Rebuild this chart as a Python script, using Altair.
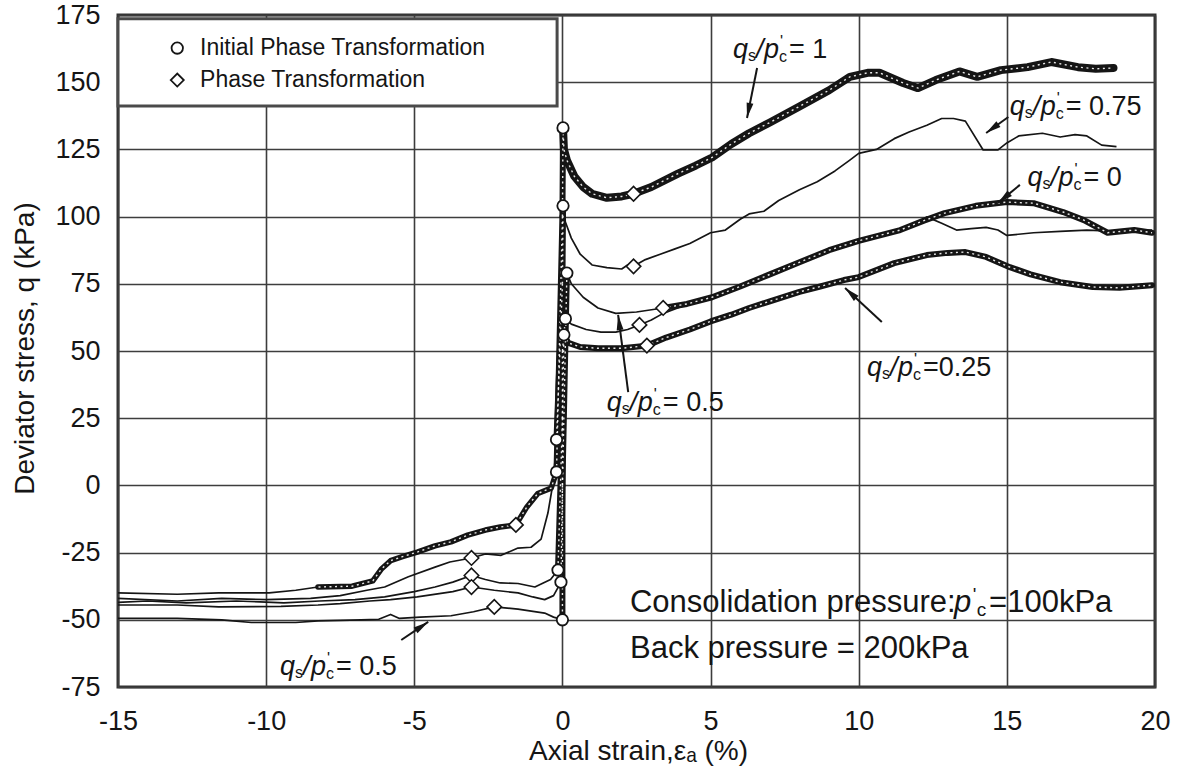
import math
import altair as alt
import pandas as pd

FONT = "Liberation Sans"
INK = "#151515"
GRID = "#3d3d3d"
W, H = 1037, 672
X_MIN, X_MAX = -15, 20
Q_MIN, Q_MAX = -75, 175
SX = W / (X_MAX - X_MIN)      # px per % strain
SQ = H / (Q_MAX - Q_MIN)      # px per kPa

# Static shear ratio qs/p'c of each test and the deviator stress it starts from (kPa)
TESTS = ["1", "0.75", "0.5", "0.25", "0"]
QS_START = [100, 75, 50, 25, 0]

# ---- compression side: axial strain (%) / deviator stress (kPa), from the IPT point on ----
C1_X = [0.02, 0.05, 0.15, 0.4, 0.7, 1.0, 1.5, 2.0, 2.4, 3.0, 3.9, 4.5, 5.05, 5.7, 6.3,
        7.0, 8.0, 9.0, 9.7, 10.3, 10.7, 11.5, 12.0, 12.6, 13.4, 14.0, 14.8, 15.7, 16.5,
        17.4, 18.0, 18.6]
C1_Q = [133, 125, 121, 115, 111, 108.5, 107, 107.5, 108.5, 111, 116, 119, 122, 127, 131,
        135, 141, 147, 152, 153.5, 153.5, 149.7, 147.8, 150.8, 154, 152, 154.5, 155.6, 157.5,
        155.6, 155, 155.3]

C075_X = [0.02, 0.1, 0.3, 0.6, 1.0, 1.5, 2.0, 2.2, 2.4, 2.8, 3.3, 3.8, 4.3, 5.0, 5.5,
          6.0, 6.3, 6.8, 7.3, 8.0, 8.6, 9.2, 9.7, 10.0, 10.6, 11.2, 11.7, 12.3, 12.8,
          13.2, 13.6, 14.2, 14.7, 15.0, 15.4, 16.2, 16.8, 17.3, 17.7, 18.2, 18.7]
C075_Q = [104, 98, 92, 86, 82, 81, 80.5, 82, 81.5, 84, 86, 88, 90, 94, 95,
          99, 101, 102, 106, 110, 113, 117, 121, 123.5, 125, 129, 131.5, 134, 136.5,
          136.5, 135.5, 124.8, 124.8, 127.4, 130, 131, 129.6, 130.5, 130, 126.6, 126]

C05_X = [0.1, 0.3, 0.8, 1.3, 1.8, 2.2, 2.6, 3.0, 3.4, 4.0, 5.0, 6.0, 7.0, 8.0, 9.0,
         10.0, 11.0, 11.8, 12.3, 12.8, 13.3, 13.8, 14.3, 14.7, 15.0, 15.9, 16.8, 17.7,
         18.8, 19.9]
C05_Q = [62, 60, 58, 57, 57, 58, 59.7, 61.5, 64, 66.5, 69.5, 73.5, 78, 82.5, 87,
         90.5, 93.5, 96.5, 99.9, 97.5, 95, 95.5, 96, 95, 93, 94, 94.5, 95,
         94.5, 95]

C025_X = [0.05, 0.2, 0.6, 1.2, 2.0, 2.85, 3.5, 4.3, 5.0, 5.7, 6.3, 7.0, 8.0, 8.7, 9.5,
          10.0, 11.2, 12.3, 13.0, 13.6, 14.3, 15.1, 15.8, 16.8, 17.9, 18.8, 19.9]
C025_Q = [56, 53, 51.5, 51, 51, 52, 55, 58, 61, 63.5, 66, 68.5, 72, 74, 76.4,
          77.5, 82.7, 85.7, 86.5, 86.8, 85, 81.2, 78.5, 75.6, 73.8, 73.5, 74.5]

C0_X = [0.15, 0.3, 0.7, 1.2, 1.8, 2.5, 3.4, 4.2, 5.05, 6.0, 7.0, 8.0, 9.0, 10.0, 11.4,
        12.2, 12.9, 13.95, 15.0, 15.9, 16.9, 17.6, 18.4, 19.3, 19.9]
C0_Q = [79, 75, 70, 66, 64, 64.5, 66, 67.5, 70, 74, 78.5, 83, 87.5, 91, 95,
        98.5, 101.3, 104, 105.4, 105, 101.7, 98.7, 94, 95, 94]

# ---- extension side ----
E1_X = [-0.2, -0.38, -0.83, -1.2, -1.57, -2.1, -2.6, -3.2, -3.76, -4.3, -4.9, -5.4,
        -5.8, -6.1, -6.4, -7.1, -8.25, -9.0, -9.9, -11.6, -13.0, -15.0]
E1_Q = [5, -1, -3, -8, -14.7, -15.5, -16.6, -18.5, -21, -22.5, -24.8, -26.5,
        -28, -31, -35.5, -37.5, -37.8, -39, -40, -40, -40.5, -40]

E075_X = [-0.2, -0.3, -0.49, -0.72, -1.06, -1.5, -2.07, -2.6, -3.07, -3.8, -4.3, -5.2,
          -6.0, -6.6, -7.5, -8.5, -10.0, -11.5, -13.0, -15.0]
E075_Q = [17, 2, -10.3, -20, -23, -23.3, -26, -25.5, -27, -28.5, -30.4, -34,
          -37.8, -39, -41, -42, -42.5, -42, -43, -42]

E05_X = [0.0, -0.3, -0.6, -1.5, -2.3, -3.0, -3.76, -4.8, -5.5, -5.8, -6.2, -6.8, -7.5,
         -8.25, -9.0, -10.5, -11.5, -13.0, -15.0]
E05_Q = [-50, -49, -47.5, -46, -45.2, -47, -48.5, -49, -49.5, -48, -49.8, -50, -50.2,
         -50.4, -51, -51, -50, -49.5, -49.5]

E025_X = [-0.15, -0.4, -0.93, -1.5, -2.1, -2.6, -3.07, -3.7, -4.3, -5.0, -6.0, -7.0,
          -8.2, -9.4, -11.0, -12.7, -14.0, -15.0]
E025_Q = [-31.5, -35, -37.8, -36.5, -36.3, -35, -33.5, -36, -37.8, -39.5, -41.5, -42.5,
          -43, -43.7, -43, -43.7, -43, -43.5]

E0_X = [-0.05, -0.3, -0.6, -1.0, -1.5, -2.3, -3.07, -3.7, -4.9, -5.8, -6.5, -7.5,
        -8.25, -9.5, -11.6, -13.0, -15.0]
E0_Q = [-36, -41, -42.5, -41.5, -40, -39, -37.8, -39.5, -41.5, -42.5, -43, -44,
        -44.5, -45, -45.2, -44.5, -44.5]

# Phase transformation points
PT_X = [2.4, 2.4, 2.6, 2.85, 3.4, -1.57, -3.07, -3.07, -2.3, -3.07]
PT_Q = [108.5, 81.5, 59.7, 52, 66, -14.7, -27, -33.5, -45.2, -37.8]

# Arrows pointing from the ratio labels to their curves
ARROW_X0 = [6.57, 15.05, 15.44, 10.78, 2.22, -5.44]
ARROW_Q0 = [155.3, 137.05, 111.8, 60.8, 34.7, -57.5]
ARROW_X1 = [6.23, 14.3, 14.7, 9.54, 1.88, -4.53]
ARROW_Q1 = [136.7, 131.1, 105.1, 73.4, 63.4, -50.8]

# Ratio labels (left edge, centre line) and their values
LABEL_X = [5.76, 15.1, 15.7, 10.28, 1.5, -9.53]
LABEL_Q = [162.0, 140.8, 114.4, 43.7, 30.7, -67.6]
LABEL_TAIL = ["= 1", "= 0.75", "= 0", "=0.25", "= 0.5", "= 0.5"]

COMP = {"1": (C1_X, C1_Q), "0.75": (C075_X, C075_Q), "0.5": (C05_X, C05_Q),
        "0.25": (C025_X, C025_Q), "0": (C0_X, C0_Q)}
EXT = {"1": (E1_X, E1_Q), "0.75": (E075_X, E075_Q), "0.5": (E05_X, E05_Q),
       "0.25": (E025_X, E025_Q), "0": (E0_X, E0_Q)}

# ---------------------------------------------------------------- line tables
thin_rows, thick_rows = [], []


def put(rows, name, xs, qs, w=6.0):
    for i, (x, q) in enumerate(zip(xs, qs)):
        rows.append({"series": name, "i": i, "x": x, "q": q, "w": w})


for t, q0 in zip(TESTS, QS_START):
    for side, table in (("C", COMP), ("E", EXT)):
        xs, qs = table[t]
        # undrained loading from the static shear level up/down to the IPT point
        put(thick_rows, f"load{side}{t}", [0.0, xs[0]], [q0, qs[0]], 6.0)

put(thick_rows, "C1", C1_X, C1_Q, 8.0)
put(thick_rows, "C0.25", C025_X, C025_Q, 6.0)
put(thin_rows, "C0a", C0_X[:7], C0_Q[:7])
put(thick_rows, "C0b", C0_X[6:], C0_Q[6:], 6.0)
# the extension curve at qs/p'c = 1 is densely marked only down to about -8 %
put(thick_rows, "E1a", E1_X[:17], E1_Q[:17], 5.5)
put(thin_rows, "E1b", E1_X[16:], E1_Q[16:])
for name, (xs, qs) in (("C0.75", COMP["0.75"]), ("C0.5", COMP["0.5"]),
                       ("E0.75", EXT["0.75"]), ("E0.5", EXT["0.5"]),
                       ("E0.25", EXT["0.25"]), ("E0", EXT["0"])):
    put(thin_rows, name, xs, qs)

thin_df = pd.DataFrame(thin_rows)
thick_df = pd.DataFrame(thick_rows)

ipt_df = pd.DataFrame({
    "x": [COMP[t][0][0] for t in TESTS] + [EXT[t][0][0] for t in TESTS],
    "q": [COMP[t][1][0] for t in TESTS] + [EXT[t][1][0] for t in TESTS],
})
pt_df = pd.DataFrame({"x": PT_X, "q": PT_Q})

# ---------------------------------------------------------------- scales / axes
XS = alt.Scale(domain=[X_MIN, X_MAX], nice=False, zero=False)
YS = alt.Scale(domain=[Q_MIN, Q_MAX], nice=False, zero=False)
AX_X = alt.Axis(values=list(range(-15, 21, 5)), labelExpr="'' + datum.value",
                labelFont=FONT, labelFontSize=27, labelColor=INK, labelPadding=21,
                labelFlush=False, title="Axial strain,εₐ (%)", titleFont=FONT,
                titleFontSize=28, titleFontWeight="normal", titleColor=INK,
                titleX=520, titleY=64, titleBaseline="middle",
                grid=True, gridColor=GRID, gridWidth=1.6, domain=False, ticks=False)
AX_Y = alt.Axis(values=list(range(-75, 176, 25)), labelExpr="'' + datum.value",
                labelFont=FONT, labelFontSize=27, labelColor=INK, labelPadding=18,
                title="Deviator stress, q (kPa)", titleFont=FONT, titleFontSize=28,
                titleFontWeight="normal", titleColor=INK, titleX=-93, titleY=333,
                titleAngle=270, titleAlign="center", titleBaseline="middle",
                grid=True, gridColor=GRID, gridWidth=1.6, domain=False, ticks=False)


def X(f="x"):
    return alt.X(f"{f}:Q", scale=XS, axis=AX_X)


def Y(f="q"):
    return alt.Y(f"{f}:Q", scale=YS, axis=AX_Y)


# ---------------------------------------------------------------- legend box
legend_box = alt.Chart(pd.DataFrame({"x": [-15.0], "x2": [-0.18], "q": [141.1], "q2": [173.6]})
                       ).mark_rect(fill="white", stroke="#4a4a4a", strokeWidth=3).encode(
    x=X(), x2="x2:Q", y=Y(), y2="q2:Q")
leg_sym = pd.DataFrame({"x": [-13.0, -13.0], "q": [162.7, 150.8],
                        "shape": ["circle", "diamond"], "size": [130, 170],
                        "label": ["Initial Phase Transformation", "Phase Transformation"]})
legend_marks = alt.Chart(leg_sym).mark_point(filled=True, fill="white", stroke=INK,
                                             strokeWidth=1.8, opacity=1).encode(
    x=X(), y=Y(), shape=alt.Shape("shape:N", scale=None),
    size=alt.Size("size:Q", scale=None))
legend_text = alt.Chart(leg_sym.assign(x=-12.23)).mark_text(
    align="left", baseline="middle", font=FONT, fontSize=23, color=INK).encode(
    x=X(), y=Y(), text="label:N")

# ---------------------------------------------------------------- curves
thin = alt.Chart(thin_df).mark_line(color=INK, strokeWidth=1.7, strokeJoin="round").encode(
    x=X(), y=Y(), detail="series:N", order="i:Q")
thick = alt.Chart(thick_df).mark_line(color=INK, strokeJoin="round", strokeCap="round").encode(
    x=X(), y=Y(), detail="series:N", order="i:Q",
    strokeWidth=alt.StrokeWidth("w:Q", scale=None, legend=None))
speckle = alt.Chart(thick_df).mark_line(color="white", strokeWidth=1.4, strokeDash=[2, 3.5],
                                        opacity=0.9).encode(
    x=X(), y=Y(), detail="series:N", order="i:Q")

ipt = alt.Chart(ipt_df).mark_point(shape="circle", size=130, filled=True, fill="white",
                                   stroke=INK, strokeWidth=1.8, opacity=1).encode(x=X(), y=Y())
pt = alt.Chart(pt_df).mark_point(shape="diamond", size=210, filled=True, fill="white",
                                 stroke=INK, strokeWidth=1.6, opacity=1).encode(x=X(), y=Y())

# ---------------------------------------------------------------- arrows
arr = pd.DataFrame({"x": ARROW_X0, "q": ARROW_Q0, "x2": ARROW_X1, "q2": ARROW_Q1})
arr["ang"] = [
    math.degrees(math.atan2((x1 - x0) * SX, (q1 - q0) * SQ)) % 360
    for x0, q0, x1, q1 in zip(ARROW_X0, ARROW_Q0, ARROW_X1, ARROW_Q1)
]
shafts = alt.Chart(arr).mark_rule(color=INK, strokeWidth=2).encode(
    x=X(), y=Y(), x2="x2:Q", y2="q2:Q")
heads = alt.Chart(arr).mark_point(shape="M0,0L0.5,2.2L-0.5,2.2Z", size=190, filled=True,
                                  color=INK, opacity=1).encode(
    x=X("x2"), y=Y("q2"), angle=alt.Angle("ang:Q", scale=None))

# ---------------------------------------------------------------- ratio labels  qs/p'c = …
frag_rows = []
PIECES = [("q", 0, 0, "it"), ("s", 15, 6, "sub"), ("/", 23, 0, "it"), ("p", 31, 0, "it"),
          ("'", 47, -8, "sub"), ("c", 46, 7, "sub")]
for lx, lq, tail in zip(LABEL_X, LABEL_Q, LABEL_TAIL):
    for txt, dx, dy, kind in PIECES:
        frag_rows.append({"x": lx + dx / SX, "q": lq - dy / SQ, "t": txt, "k": kind})
    frag_rows.append({"x": lx + 56 / SX, "q": lq, "t": tail, "k": "rm"})

# consolidation / back pressure note
frag_rows += [
    {"x": 2.28, "q": -43.6, "t": "Consolidation pressure:", "k": "big"},
    {"x": 13.22, "q": -43.6, "t": "p", "k": "big_it"},
    {"x": 13.85, "q": -40.6, "t": "'", "k": "big_sub"},
    {"x": 13.98, "q": -46.2, "t": "c", "k": "big_sub"},
    {"x": 14.4, "q": -43.6, "t": "=100kPa", "k": "big"},
    {"x": 2.28, "q": -60.9, "t": "Back pressure = 200kPa", "k": "big"},
]
frag = pd.DataFrame(frag_rows)

STYLE = {"it": (27, "italic"), "sub": (16, "normal"), "rm": (27, "normal"),
         "big": (31, "normal"), "big_it": (31, "italic"), "big_sub": (19, "normal")}
texts = []
for kind, (fs, fst) in STYLE.items():
    texts.append(alt.Chart(frag[frag.k == kind]).mark_text(
        align="left", baseline="middle", font=FONT, fontSize=fs, fontStyle=fst,
        color=INK).encode(x=X(), y=Y(), text="t:N"))

chart = alt.layer(
    legend_box, thin, thick, speckle, ipt, pt, shafts, heads,
    legend_marks, legend_text, *texts,
).properties(
    width=W, height=H,
    padding={"left": 118, "top": 15, "right": 33, "bottom": 85},
    autosize=alt.AutoSizeParams(type="none"),
    background="white",
).configure_view(stroke="#333333", strokeWidth=3)

chart.save("out.html", embed_options={"renderer": "svg", "actions": False})
